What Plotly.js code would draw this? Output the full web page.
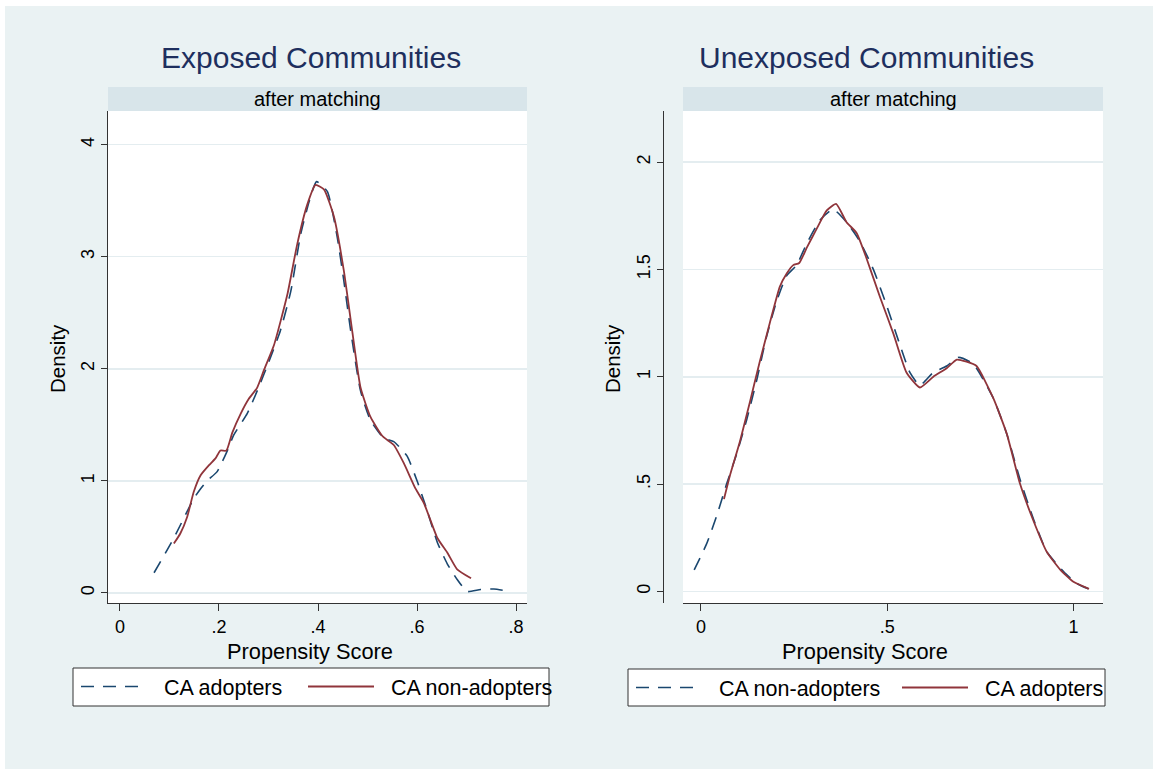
<!DOCTYPE html>
<html>
<head>
<meta charset="utf-8">
<script src="https://cdn.plot.ly/plotly-3.0.1.min.js"></script>
<style>
html,body{margin:0;padding:0;background:#ffffff;width:1155px;height:770px;overflow:hidden;}
#chart{position:absolute;left:5px;top:6px;width:1148px;height:763px;}
</style>
</head>
<body>
<div id="chart"></div>
<script>
// ---- Data ----
// Exposed Communities
const expAdoptX = [0.069,0.109,0.149,0.163,0.176,0.196,0.215,0.230,0.257,0.277,0.297,0.324,0.345,0.365,0.382,0.397,0.419,0.439,0.452,0.466,0.486,0.506,0.533,0.553,0.580,0.600,0.620,0.641,0.661,0.681,0.701,0.728,0.755,0.779];
const expAdoptY = [0.18,0.49,0.84,0.93,1.00,1.08,1.25,1.41,1.60,1.80,2.02,2.34,2.69,3.20,3.49,3.67,3.58,3.17,2.79,2.34,1.80,1.54,1.38,1.35,1.22,1.00,0.74,0.45,0.26,0.12,0.013,0.03,0.035,0.02];
const expNonX = [0.109,0.122,0.136,0.149,0.163,0.180,0.193,0.203,0.215,0.227,0.244,0.260,0.277,0.291,0.311,0.338,0.358,0.378,0.395,0.412,0.432,0.452,0.469,0.486,0.506,0.530,0.553,0.573,0.597,0.614,0.641,0.661,0.681,0.709];
const expNonY = [0.44,0.53,0.68,0.90,1.05,1.14,1.20,1.27,1.27,1.43,1.60,1.73,1.83,1.99,2.21,2.66,3.11,3.46,3.64,3.60,3.36,2.88,2.34,1.83,1.57,1.40,1.32,1.16,0.93,0.80,0.49,0.36,0.21,0.13];
// Unexposed Communities
const unNonX = [-0.018,0.015,0.042,0.069,0.096,0.123,0.150,0.176,0.203,0.230,0.257,0.284,0.320,0.355,0.391,0.427,0.463,0.499,0.534,0.561,0.588,0.624,0.660,0.691,0.731,0.785,0.821,0.857,0.893,0.928,0.955,0.982,1.009,1.040];
const unNonY = [0.10,0.22,0.35,0.50,0.64,0.80,0.985,1.185,1.35,1.47,1.52,1.62,1.73,1.78,1.72,1.63,1.50,1.33,1.15,1.02,0.96,1.02,1.05,1.09,1.06,0.90,0.735,0.52,0.336,0.186,0.128,0.078,0.037,0.012];
const unAdoptX = [0.062,0.078,0.105,0.132,0.158,0.185,0.212,0.230,0.248,0.264,0.284,0.311,0.338,0.363,0.391,0.418,0.445,0.481,0.517,0.552,0.588,0.624,0.660,0.687,0.713,0.740,0.785,0.821,0.857,0.893,0.928,0.964,1.000,1.042];
const unAdoptY = [0.43,0.54,0.70,0.885,1.07,1.25,1.42,1.48,1.52,1.53,1.60,1.69,1.775,1.805,1.72,1.67,1.55,1.37,1.20,1.02,0.95,1.00,1.04,1.08,1.07,1.05,0.90,0.735,0.50,0.328,0.186,0.103,0.045,0.012];

const leftXTicks = [0,0.2,0.4,0.6,0.8];
const leftXLabels = ["0",".2",".4",".6",".8"];
const leftYTicks = [0,1,2,3,4];
const leftYLabels = ["0","1","2","3","4"];
const rightXTicks = [0,0.5,1];
const rightXLabels = ["0",".5","1"];
const rightYTicks = [0,0.5,1,1.5,2];
const rightYLabels = ["0",".5","1","1.5","2"];

// ---- Geometry helpers (page px -> paper fraction) ----
const W = 1148, H = 763, OX = 5, OY = 6;
const fx = px => (px - OX) / W;
const fy = py => 1 - (py - OY) / H;

const NAVY = '#1a476f', MAROON = '#90353b';
const AXC = '#333333', GRID = '#e4edf0';
const FONT = 'Liberation Sans, Arial, sans-serif';
const SP = '\u00a0\u00a0';

const traces = [
  {x: expAdoptX, y: expAdoptY, xaxis:'x', yaxis:'y', mode:'lines', name:SP+'CA adopters',
   line:{color:NAVY, width:1.6, dash:'13px,9px', shape:'spline', smoothing:0.5}, legend:'legend'},
  {x: expNonX, y: expNonY, xaxis:'x', yaxis:'y', mode:'lines', name:SP+'CA non-adopters',
   line:{color:MAROON, width:1.8, shape:'spline', smoothing:0.5}, legend:'legend2'},
  {x: unNonX, y: unNonY, xaxis:'x2', yaxis:'y2', mode:'lines', name:SP+'CA non-adopters',
   line:{color:NAVY, width:1.6, dash:'13px,9px', shape:'spline', smoothing:0.5}, legend:'legend3'},
  {x: unAdoptX, y: unAdoptY, xaxis:'x2', yaxis:'y2', mode:'lines', name:SP+'CA adopters',
   line:{color:MAROON, width:1.8, shape:'spline', smoothing:0.5}, legend:'legend4'}
];

const tickFont = {family: FONT, size: 18, color: '#000'};
const commonX = {showgrid:false, zeroline:false, showline:true, linecolor:AXC, linewidth:1,
  ticks:'outside', ticklen:7, tickcolor:AXC, tickfont:tickFont, tickmode:'array', fixedrange:true};
const commonY = {showgrid:true, gridcolor:GRID, gridwidth:1.5, zeroline:false, showline:true, linecolor:AXC, linewidth:1,
  ticks:'outside', ticklen:6, tickcolor:AXC, tickfont:tickFont, tickangle:-90, tickmode:'array', fixedrange:true};

const yDom = [fy(603), fy(111)];

const legendCommon = {orientation:'h', bgcolor:'rgba(0,0,0,0)', borderwidth:0,
  font:{family:FONT, size:21.5, color:'#000'}, xanchor:'left', yanchor:'top',
  itemwidth:66, tracegroupgap:0};
const lg = (sampleStartPx, topPx) => Object.assign({}, legendCommon, {x:fx(sampleStartPx - 6), y:fy(topPx)});

const layout = {
  width: W, height: H,
  margin:{l:0,r:0,t:0,b:0, autoexpand:false},
  paper_bgcolor:'#eaf2f3', plot_bgcolor:'#ffffff',
  showlegend:true,
  xaxis: Object.assign({}, commonX, {domain:[fx(108), fx(527)], range:[-0.024,0.822], anchor:'y',
    tickvals:leftXTicks, ticktext:leftXLabels}),
  yaxis: Object.assign({}, commonY, {domain:yDom, range:[-0.09,4.30], anchor:'x',
    tickvals:leftYTicks, ticktext:leftYLabels}),
  xaxis2: Object.assign({}, commonX, {domain:[fx(683), fx(1103)], range:[-0.048,1.0795], anchor:'y2',
    tickvals:rightXTicks, ticktext:rightXLabels}),
  yaxis2: Object.assign({}, commonY, {domain:yDom, range:[-0.054,2.238], anchor:'free', position:fx(663),
    tickvals:rightYTicks, ticktext:rightYLabels}),
  legend: lg(82, 666),
  legend2: lg(309, 666),
  legend3: lg(637, 667),
  legend4: lg(903, 667),
  shapes: [
    {type:'rect', xref:'x domain', yref:'paper', x0:0, x1:1, y0:fy(111), y1:fy(87),
     fillcolor:'#d8e5ea', line:{width:0}},
    {type:'rect', xref:'x2 domain', yref:'paper', x0:0, x1:1, y0:fy(111), y1:fy(87),
     fillcolor:'#d8e5ea', line:{width:0}},
    // legend frames
    {type:'rect', xref:'paper', yref:'paper', x0:fx(73), x1:fx(549), y0:fy(706), y1:fy(668),
     fillcolor:'#ffffff', line:{color:AXC, width:1}},
    {type:'rect', xref:'paper', yref:'paper', x0:fx(628), x1:fx(1105), y0:fy(706), y1:fy(669),
     fillcolor:'#ffffff', line:{color:AXC, width:1}}
  ],
  annotations: [
    {text:'Exposed Communities', xref:'paper', yref:'paper', x:fx(311), y:fy(57), showarrow:false,
     xanchor:'center', yanchor:'middle', font:{family:FONT, size:30, color:'#1e2f5e'}},
    {text:'Unexposed Communities', xref:'paper', yref:'paper', x:fx(866), y:fy(57), showarrow:false,
     xanchor:'center', yanchor:'middle', font:{family:FONT, size:30, color:'#1e2f5e'}},
    {text:'after matching', xref:'x domain', yref:'paper', x:0.5, y:fy(99), showarrow:false,
     xanchor:'center', yanchor:'middle', font:{family:FONT, size:20, color:'#000'}},
    {text:'after matching', xref:'x2 domain', yref:'paper', x:0.5, y:fy(99), showarrow:false,
     xanchor:'center', yanchor:'middle', font:{family:FONT, size:20, color:'#000'}},
    {text:'Propensity Score', xref:'paper', yref:'paper', x:fx(310), y:fy(651), showarrow:false,
     xanchor:'center', yanchor:'middle', font:{family:FONT, size:21.8, color:'#000'}},
    {text:'Propensity Score', xref:'paper', yref:'paper', x:fx(865), y:fy(651), showarrow:false,
     xanchor:'center', yanchor:'middle', font:{family:FONT, size:21.8, color:'#000'}},
    {text:'Density', xref:'paper', yref:'paper', x:fx(57), y:fy(359), showarrow:false, textangle:-90,
     xanchor:'center', yanchor:'middle', font:{family:FONT, size:20.5, color:'#000'}},
    {text:'Density', xref:'paper', yref:'paper', x:fx(612), y:fy(359), showarrow:false, textangle:-90,
     xanchor:'center', yanchor:'middle', font:{family:FONT, size:20.5, color:'#000'}}
  ]
};

Plotly.newPlot('chart', traces, layout, {displayModeBar:false, staticPlot:true});
</script>
</body>
</html>
